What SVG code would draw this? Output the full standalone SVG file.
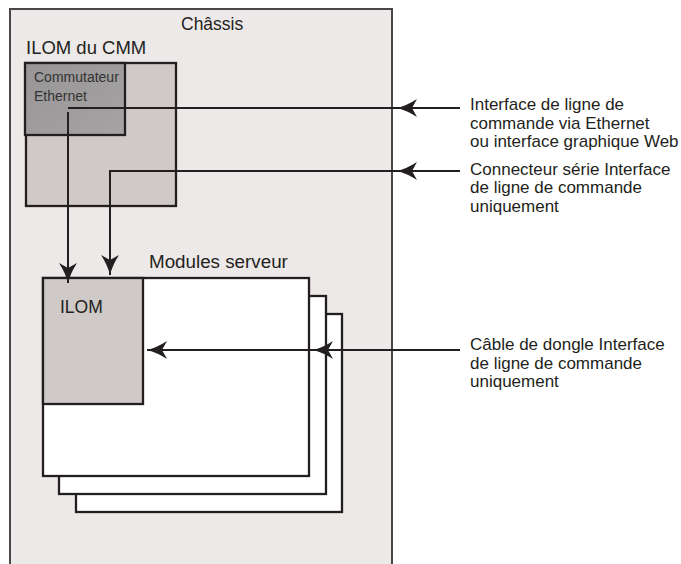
<svg xmlns="http://www.w3.org/2000/svg" width="681" height="564" viewBox="0 0 681 564">
<style>
  .box { stroke: #231f20; stroke-width: 2.3; }
  .conn { fill: none; stroke: #231f20; stroke-width: 2; }
  text { font-family: "Liberation Sans", Arial, sans-serif; fill: #231f20; }
  .big { font-size: 18.5px; }
  .lbl { font-size: 17px; }
  .small { font-size: 14px; fill: #333; }
</style>
<defs>
  <marker id="arr" markerUnits="userSpaceOnUse" markerWidth="22" markerHeight="18" viewBox="0 0 20 18" refX="20" refY="9" orient="auto" overflow="visible">
    <path d="M0,0 Q10,6.5 20,9 Q10,11.5 0,18 L5,9 Z" fill="#231f20"/>
  </marker>
  <linearGradient id="sw" x1="0" y1="0" x2="1" y2="1">
    <stop offset="0" stop-color="#979595"/>
    <stop offset="1" stop-color="#a5a3a3"/>
  </linearGradient>
</defs>
<rect width="681" height="564" fill="#ffffff"/>
<g id="chassis">
  <rect x="10" y="9" width="382" height="570" fill="#ede9e8" stroke="#4a4647" stroke-width="2"/>
  <text class="big" x="181" y="30" style="font-size:17.5px">Châssis</text>
</g>
<g id="cmm">
  <text class="big" x="26" y="54">ILOM du CMM</text>
  <rect class="box" x="26" y="63" width="150" height="143" fill="#cfcac7"/>
</g>
<g id="switch">
  <rect class="box" x="25" y="63" width="100" height="72" fill="url(#sw)"/>
  <text class="small" x="34" y="82">Commutateur</text>
  <text class="small" x="34" y="100.5">Ethernet</text>
</g>
<g id="servers">
  <text class="big" x="149" y="268" style="font-size:18.8px">Modules serveur</text>
  <rect class="box" x="76" y="314" width="266" height="198" fill="#ffffff"/>
  <rect class="box" x="59" y="296" width="267" height="198" fill="#ffffff"/>
  <rect class="box" x="43" y="278" width="266" height="198" fill="#ffffff"/>
</g>
<g id="ilom">
  <rect class="box" x="43" y="278" width="100" height="126" fill="#cfcac8"/>
  <text class="big" x="60" y="313" style="font-size:17.5px">ILOM</text>
</g>
<g id="labels">
  <text class="lbl" x="470" y="110">Interface de ligne de</text>
  <text class="lbl" x="470" y="128.5">commande via Ethernet</text>
  <text class="lbl" x="470" y="147">ou interface graphique Web</text>
  <text class="lbl" x="470" y="174.5">Connecteur série Interface</text>
  <text class="lbl" x="470" y="193">de ligne de commande</text>
  <text class="lbl" x="470" y="211.5">uniquement</text>
  <text class="lbl" x="470" y="350">Câble de dongle Interface</text>
  <text class="lbl" x="470" y="368.5">de ligne de commande</text>
  <text class="lbl" x="470" y="387">uniquement</text>
</g>
<g id="connectors">
  <path class="conn" d="M460,108 H397" marker-end="url(#arr)"/>
  <path class="conn" d="M397,108 H68"/>
  <path class="conn" d="M68,112 V283" marker-end="url(#arr)"/>
  <path class="conn" d="M460,171 H397" marker-end="url(#arr)"/>
  <path class="conn" d="M397,171 H110 V275" marker-end="url(#arr)"/>
  <path class="conn" d="M460,350 H313" marker-end="url(#arr)"/>
  <path class="conn" d="M313,350 H147" marker-end="url(#arr)"/>
</g>
</svg>
